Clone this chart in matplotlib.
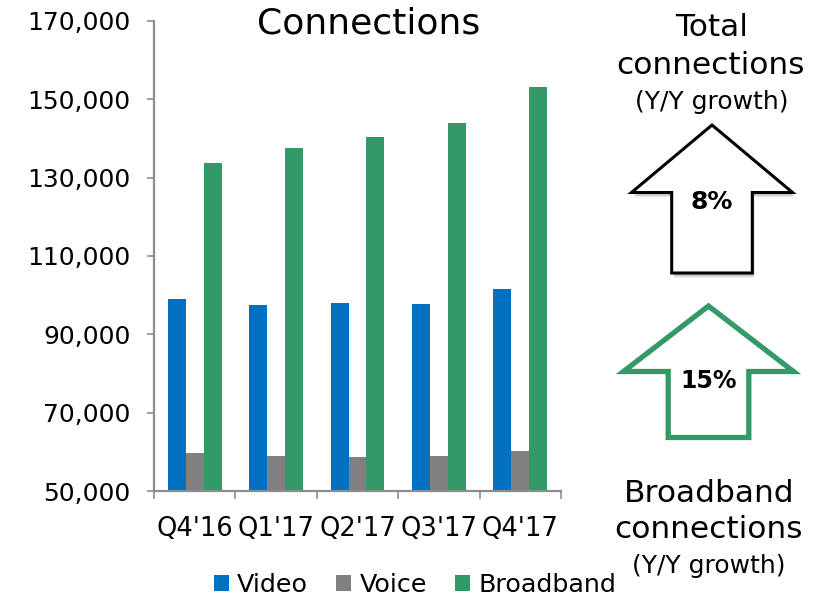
import matplotlib
matplotlib.use("Agg")
import matplotlib.pyplot as plt
from matplotlib.patches import Polygon
from matplotlib.ticker import FuncFormatter, FixedLocator
import numpy as np

plt.rcParams['font.family'] = ['DejaVu Sans']

quarters = ["Q4'16", "Q1'17", "Q2'17", "Q3'17", "Q4'17"]
video = [99000, 97600, 97900, 97800, 101700]
voice = [59600, 58900, 58700, 58850, 60100]
broadband = [133700, 137700, 140300, 143900, 153100]

total_growth = "8%"
broadband_growth = "15%"

c_video = "#0070C0"
c_voice = "#808080"
c_bband = "#339966"
c_axis = "#8C8C8C"

W, H = 816, 598
fig = plt.figure(figsize=(W / 100, H / 100), dpi=100)
ax = fig.add_axes([154 / W, 1 - 491 / H, (561 - 154) / W, (491 - 21) / H])

x = np.arange(len(quarters))
bw = 0.221
ax.bar(x - bw, video, bw, color=c_video, label="Video", zorder=2)
ax.bar(x, voice, bw, color=c_voice, label="Voice", zorder=2)
ax.bar(x + bw, broadband, bw, color=c_bband, label="Broadband", zorder=2)

ax.set_ylim(50000, 170000)
ax.set_xlim(-0.5, len(quarters) - 0.5)
ax.set_yticks(np.arange(50000, 170001, 20000))
ax.yaxis.set_major_formatter(FuncFormatter(lambda v, p: f"{int(v):,}"))

ax.set_xticks(x)
ax.set_xticklabels(quarters)
ax.xaxis.set_minor_locator(FixedLocator(np.arange(-0.5, len(quarters), 1.0)))

for s in ["top", "right"]:
    ax.spines[s].set_visible(False)
for s in ["left", "bottom"]:
    ax.spines[s].set_color(c_axis)
    ax.spines[s].set_linewidth(1.6)

ax.tick_params(axis="y", which="major", length=5, width=1.2, color=c_axis,
               labelsize=18, pad=12)
ax.tick_params(axis="x", which="major", length=0, labelsize=18.5, pad=18)
ax.tick_params(axis="x", which="minor", length=6, width=1.2, color=c_axis)

fig.text(369 / W, 1 - 24 / H, "Connections", fontsize=26, ha="center", va="center")

fig.legend(loc="center", bbox_to_anchor=(415 / W, 1 - 585 / H), ncol=3,
           frameon=False, fontsize=18.3, handlelength=0.6, handleheight=0.6,
           handletextpad=0.32, columnspacing=1.1, borderaxespad=0, borderpad=0)

# Overlay in pixel coordinates for the growth arrows and captions
ov = fig.add_axes([0, 0, 1, 1])
ov.set_xlim(0, W)
ov.set_ylim(H, 0)
ov.axis("off")
ov.patch.set_alpha(0)


def up_arrow(cx, tip, head_y, head_half, shaft_half, bottom):
    return [(cx, tip), (cx + head_half, head_y), (cx + shaft_half, head_y),
            (cx + shaft_half, bottom), (cx - shaft_half, bottom),
            (cx - shaft_half, head_y), (cx - head_half, head_y)]


top_pts = up_arrow(712, 125, 192.5, 80.5, 40.3, 273)
for k, a in zip([5, 4, 3], [0.08, 0.12, 0.16]):
    shadow = [(px + 2, py + k) for px, py in top_pts]
    ov.add_patch(Polygon(shadow, closed=True, facecolor="#555555",
                         edgecolor="none", alpha=a, zorder=1))
ov.add_patch(Polygon(top_pts, closed=True, facecolor="white",
                     edgecolor="black", linewidth=2.2, zorder=2, joinstyle="miter"))

green_pts = up_arrow(708.5, 306, 371.5, 85, 40.3, 437.5)
ov.add_patch(Polygon(green_pts, closed=True, facecolor="white",
                     edgecolor=c_bband, linewidth=3.8, zorder=2, joinstyle="miter"))

ov.text(712, 202, total_growth, fontsize=18, fontweight="bold",
        ha="center", va="center", zorder=3)
ov.text(709, 381, broadband_growth, fontsize=17, fontweight="bold",
        ha="center", va="center", zorder=3)

ov.text(712, 28, "Total", fontsize=22.5, ha="center", va="center")
ov.text(711, 65, "connections", fontsize=22.5, ha="center", va="center")
ov.text(712, 102, "(Y/Y growth)", fontsize=18, ha="center", va="center")

ov.text(709, 493, "Broadband", fontsize=22.5, ha="center", va="center")
ov.text(709, 530, "connections", fontsize=22.5, ha="center", va="center")
ov.text(709, 566, "(Y/Y growth)", fontsize=18, ha="center", va="center")

fig.savefig("out.png", dpi=100)
